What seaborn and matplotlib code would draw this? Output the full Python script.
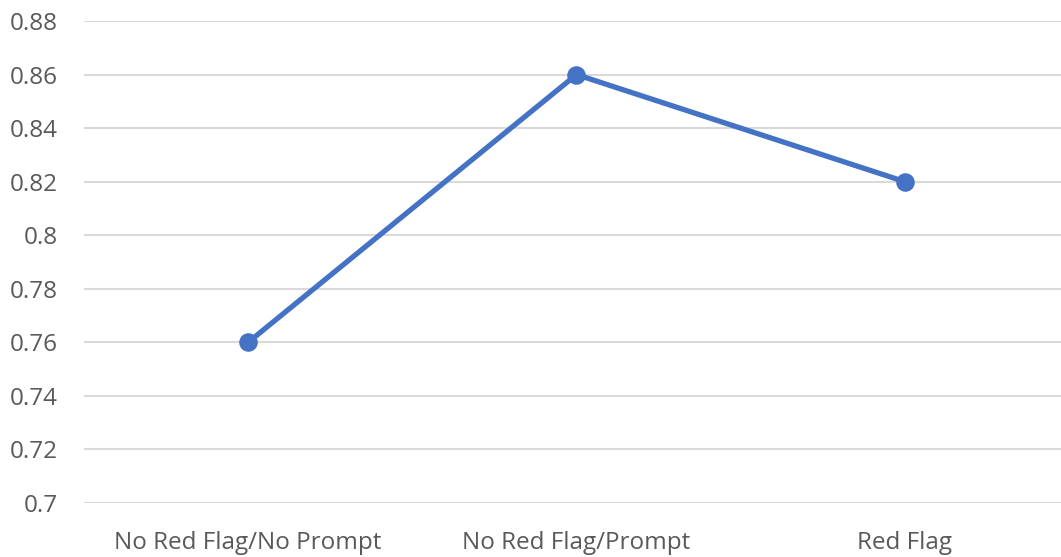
import matplotlib
matplotlib.use("Agg")
import matplotlib.pyplot as plt
import seaborn as sns
import pandas as pd
from matplotlib.ticker import FuncFormatter

conditions = ["No Red Flag/No Prompt", "No Red Flag/Prompt", "Red Flag"]
scores = [0.76, 0.86, 0.82]
y_ticks = [0.70, 0.72, 0.74, 0.76, 0.78, 0.80, 0.82, 0.84, 0.86, 0.88]

sns.set_theme(style="white")
plt.rcParams["font.family"] = ["Open Sans", "DejaVu Sans"]

df = pd.DataFrame({"condition": conditions, "score": scores})

fig = plt.figure(figsize=(10.61, 5.57), dpi=100)
ax = fig.add_axes([84 / 1061, 1 - 503 / 557, 985 / 1061, (503 - 21) / 557])

sns.pointplot(data=df, x="condition", y="score", color="#4472C4",
              markersize=10.5, linewidth=3.8, ax=ax, zorder=3)

ax.set_xlim(-0.5, 2.5)
ax.set_ylim(0.70, 0.88)
ax.set_yticks(y_ticks)
ax.yaxis.set_major_formatter(FuncFormatter(lambda v, _: f"{v:.2f}".rstrip("0").rstrip(".")))
ax.grid(axis="y", color="#D9D9D9", linewidth=1.5)
ax.set_axisbelow(True)
for side in ["left", "right", "top", "bottom"]:
    ax.spines[side].set_visible(False)
ax.tick_params(axis="both", length=0, labelsize=17.5, labelcolor="#595959")
ax.tick_params(axis="y", pad=19)
ax.tick_params(axis="x", pad=20)
ax.set_xlabel("")
ax.set_ylabel("")

fig.savefig("out.png", dpi=100)
